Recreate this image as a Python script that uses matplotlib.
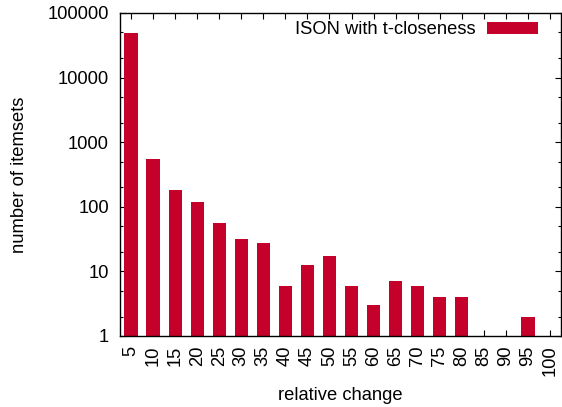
import matplotlib
matplotlib.use("Agg")
import matplotlib.pyplot as plt
from matplotlib.ticker import LogLocator, NullFormatter, FixedLocator
import numpy as np

categories = ["5", "10", "15", "20", "25", "30", "35", "40", "45", "50",
              "55", "60", "65", "70", "75", "80", "85", "90", "95", "100"]
values = [48500, 540, 181, 118, 57, 32, 28, 6, 12.5, 17.5,
          6, 3, 7, 6, 4, 4, 0, 0, 2, 0]
series_name = "ISON with t-closeness"
bar_color = "#c4002b"

plt.rcParams['font.family'] = ['Liberation Sans', 'DejaVu Sans']
fs = 13.2

fig = plt.figure(figsize=(5.62, 4.07), dpi=100)
ax = fig.add_axes([120/562, 1-336/407, 441/562, 323/407])

x = np.arange(len(categories))
vals = [v if v > 0 else np.nan for v in values]
ax.bar(x, vals, width=0.6, color=bar_color, edgecolor='none', label=series_name, zorder=2)

ax.set_yscale('log')
ax.set_ylim(1, 100000)
ax.set_xlim(-0.5, len(categories) - 0.5)
ax.yaxis.set_major_locator(FixedLocator([1, 10, 100, 1000, 10000, 100000]))
ax.set_yticklabels(["1", "10", "100", "1000", "10000", "100000"])
ax.yaxis.set_minor_locator(LogLocator(base=10, subs=(2.0, 5.0), numticks=20))
ax.yaxis.set_minor_formatter(NullFormatter())
ax.set_xticks(x)
ax.set_xticklabels(categories, rotation=90)

ax.tick_params(axis='both', which='major', direction='in', length=4.5, width=0.8,
               top=True, right=True, labelsize=fs)
ax.tick_params(axis='both', which='minor', direction='in', length=2.5, width=0.8,
               top=False, right=True)
ax.tick_params(axis='y', which='major', pad=8)
ax.tick_params(axis='x', which='major', pad=7)
ax.set_axisbelow(True)
for s in ax.spines.values():
    s.set_linewidth(1.0)
    s.set_zorder(3)

ax.set_xlabel("relative change", fontsize=fs, labelpad=8)
ax.set_ylabel("number of itemsets", fontsize=fs, labelpad=14)

leg = ax.legend(loc='upper right', frameon=False, markerfirst=False, fontsize=fs,
                handlelength=2.8, handleheight=0.6, handletextpad=0.6,
                borderaxespad=0.0, borderpad=0.2,
                bbox_to_anchor=(0.957, 0.986))

fig.savefig("out.png", dpi=100)
